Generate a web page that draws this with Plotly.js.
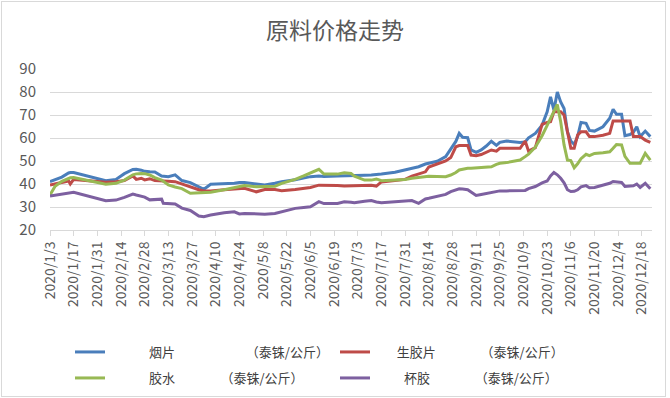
<!DOCTYPE html>
<html><head><meta charset="utf-8">
<script src="https://cdn.plot.ly/plotly-3.0.1.min.js"></script>
<style>
html,body{margin:0;padding:0;background:#fff;}
#wrap{position:relative;width:670px;height:398px;}
#chart{width:670px;height:398px;}
#frame{position:absolute;left:1px;top:1px;width:663px;height:394px;border:1px solid #d9d9d9;pointer-events:none;}
</style></head>
<body><div id="wrap"><div id="chart"></div><div id="frame"></div></div>
<script>
const dates = ['2020-01-03','2020-01-06','2020-01-10','2020-01-14','2020-01-15','2020-01-17','2020-02-05','2020-02-11','2020-02-16','2020-02-21','2020-02-23','2020-02-26','2020-02-28','2020-03-02','2020-03-05','2020-03-09','2020-03-10','2020-03-13','2020-03-17','2020-03-21','2020-03-26','2020-03-31','2020-04-03','2020-04-07','2020-04-15','2020-04-21','2020-04-24','2020-04-27','2020-05-04','2020-05-09','2020-05-15','2020-05-19','2020-05-27','2020-06-01','2020-06-05','2020-06-10','2020-06-13','2020-06-21','2020-06-25','2020-06-29','2020-07-01','2020-07-07','2020-07-11','2020-07-14','2020-07-17','2020-07-25','2020-07-31','2020-08-04','2020-08-08','2020-08-12','2020-08-14','2020-08-19','2020-08-24','2020-08-27','2020-08-30','2020-09-01','2020-09-03','2020-09-06','2020-09-08','2020-09-11','2020-09-14','2020-09-17','2020-09-20','2020-09-23','2020-09-25','2020-09-29','2020-10-07','2020-10-10','2020-10-12','2020-10-16','2020-10-20','2020-10-23','2020-10-25','2020-10-27','2020-10-29','2020-10-31','2020-11-02','2020-11-04','2020-11-06','2020-11-08','2020-11-10','2020-11-12','2020-11-15','2020-11-17','2020-11-20','2020-11-25','2020-11-29','2020-12-01','2020-12-03','2020-12-06','2020-12-08','2020-12-11','2020-12-13','2020-12-15','2020-12-17','2020-12-20','2020-12-23'];

const yanpian = [41,42,43,44.8,45,45, 41.4,42,44.5,46.3,46.4,46,45.5, 45.3,45.2,43.5,43.5,43.2,44,41.5,40.6,38.8, 37.7,39.9,40,40.3,40.6,40.6, 40,39.6,40.3,41,41.8, 42.5,43.2,43.5,43.3,43.5,43.5,43.6, 43.7,43.8,43.9,44,44.3,45.1,46, 46.8,47.5,48.7,49,49.9,51.9,55.5,58.5, 62,60.3,60.1,54.8,53.8,54.8,56.5,58.6,56.8,58.1,58.7, 58.1,58.3,60.1,62,65.6,71.4,77.9,72.1,80,75.7, 72.8,62.7,58.7,57.2,60.6,66.8,66.4,63.3,63,64.9,68.6, 72.5,70.3,70.3,61,61.5,62.5,64.9,60.6,63,60.6];

const shengjiaopian = [39.6,40,40.8,41.3,40,42, 40.8,41,41.5,43.5,42,42.5,41.8, 42.3,41.5,41.5,41.2,41.2,41,40,38.5,37.5, 37,37,37.5,37.8,38.1,38.1, 36.6,37.6,37.6,37.1,37.6, 38,38.5,39.5,39.5,39.3,39.1,39.2, 39.2,39.5,39.5,39.1,40.9,41.5,42, 43.4,44.5,45.3,47.4,48.6,50,51.5,56.2, 56.7,56.7,56.7,52.6,52.3,52.8,53.7,54.8,54.3,55.5,55.5, 55.5,58.7,54.3,55.8,65.9,66.8,67.1,71.4,71.4,71.4, 70,62.7,55.5,55.5,61.3,62.7,62.7,60.6,60.6,61.2,62, 67.4,67.4,67.4,67.4,67.4,60.6,60.6,60.6,59.1,58.1];

const jiaoshui = [35.2,39,41.2,42.5,42.7,42.8, 39.9,40.3,41.7,44,44.4,44.6,44.5, 43.9,42.8,41.7,41.2,39.6,38.7,38,36,36.3, 36.3,36.4,37.5,38.5,39,39.3, 38.8,38.8,39,40.3,42, 43.5,44.9,46.4,44.3,44.3,44.9,44.6, 43.4,41.7,41.7,42.2,41.4,41.7,42, 42.5,42.8,43.2,43.4,43.3,43.2,43.9,45, 46.1,46.5,46.8,46.9,47,47.2,47.3,47.5,48.5,49,49.3, 50.4,51.9,53,56,61,65.5,68.5,72,74.6,67.1, 57,50.4,50.2,47.1,48.8,51,52.9,52.3,53.3,53.6,54, 55.5,57.2,57,52,49,49,49.2,49,53.3,50.4];

const beijiao = [34.8,35.2,35.6,36.2,36.3,36.4, 32.7,33,34.2,35.6,35.2,34.8,34.3, 33.1,33.3,33.4,31.6,31.4,31.3,29.5,28.5,26.1, 25.8,26.5,27.5,27.9,27,27.2, 27,26.9,27.2,27.9,29.4, 29.8,30.1,32.3,31.5,31.5,32.3,32.1, 31.9,32.5,32.8,32.2,31.9,32.3,32.6, 32.8,31.6,33.5,33.8,34.5,35.5,36.7,37.5, 37.9,37.8,37.5,36.5,35,35.4,35.8,36.4,36.6,37,37, 37,37.2,38,38.9,40.5,41.3,43.5,45,44,42.5, 40.5,37.5,36.7,36.8,37.5,38.8,39.3,38.4,38.5,39.6,40.3, 41.1,41,40.7,38.9,38.9,39.2,40,38.5,40.3,37.9];

const names = ['\u3000\u3000\u3000烟片\u3000\u3000\u3000\u3000\u3000\u00a0\u00a0（泰铢/公斤）',
               '\u3000\u00a0\u00a0\u00a0生胶片\u3000\u3000\u3000\u00a0\u00a0（泰铢/公斤）',
               '\u3000\u3000\u3000胶水\u3000\u3000\u3000\u3000（泰铢/公斤）',
               '\u3000\u3000\u00a0杯胶\u3000\u3000\u3000\u00a0\u00a0（泰铢/公斤）'];
const colors = ['#4A7EBB','#BE4B48','#98B954','#7D60A0'];
const series = [yanpian, shengjiaopian, jiaoshui, beijiao];
const legends = ['legend','legend','legend2','legend2'];

const FONT = '"Noto Sans CJK SC", "Liberation Sans", sans-serif';
const traces = series.map((s,i)=>({
  x: dates, y: s, type:'scatter', mode:'lines', name: names[i],
  line:{color:colors[i], width:3}, legend: legends[i]
}));

const legendBase = (yPix)=>({orientation:'h', xref:'container', yref:'container', x:70/670, xanchor:'left',
          y:1-yPix/398, yanchor:'middle', entrywidth:220, entrywidthmode:'pixels',
          font:{size:13, color:'#404040', family:FONT}, bgcolor:'rgba(0,0,0,0)'});

const layout = {
  width:670, height:398,
  margin:{l:50, r:18, t:69, b:168},
  paper_bgcolor:'#fff', plot_bgcolor:'#fff',
  font:{family:FONT, color:'#595959'},
  title:{text:'原料价格走势', font:{size:23, color:'#595959', family:FONT},
         x:0.5, xanchor:'center', xref:'container', y:1-31/398, yref:'container', yanchor:'middle'},
  xaxis:{type:'date', range:['2020-01-03','2020-12-24'], tick0:'2020-01-03', dtick:14*86400000,
         tickformat:'%Y/%-m/%-d', tickangle:-90, tickfont:{size:14, color:'#595959'},
         showgrid:false, showline:true, linecolor:'#d9d9d9', linewidth:1,
         ticks:'outside', ticklen:5, tickcolor:'#d9d9d9', zeroline:false, automargin:false},
  yaxis:{range:[20,90], dtick:10, tickfont:{size:15, color:'#595959'},
         showgrid:true, gridcolor:'#d9d9d9', gridwidth:1, zeroline:false, showline:false,
         ticklabelstandoff:13, automargin:false},
  showlegend:true,
  legend: legendBase(352),
  legend2: legendBase(378)
};
Plotly.newPlot('chart', traces, layout, {displayModeBar:false, staticPlot:true});
</script></body></html>
